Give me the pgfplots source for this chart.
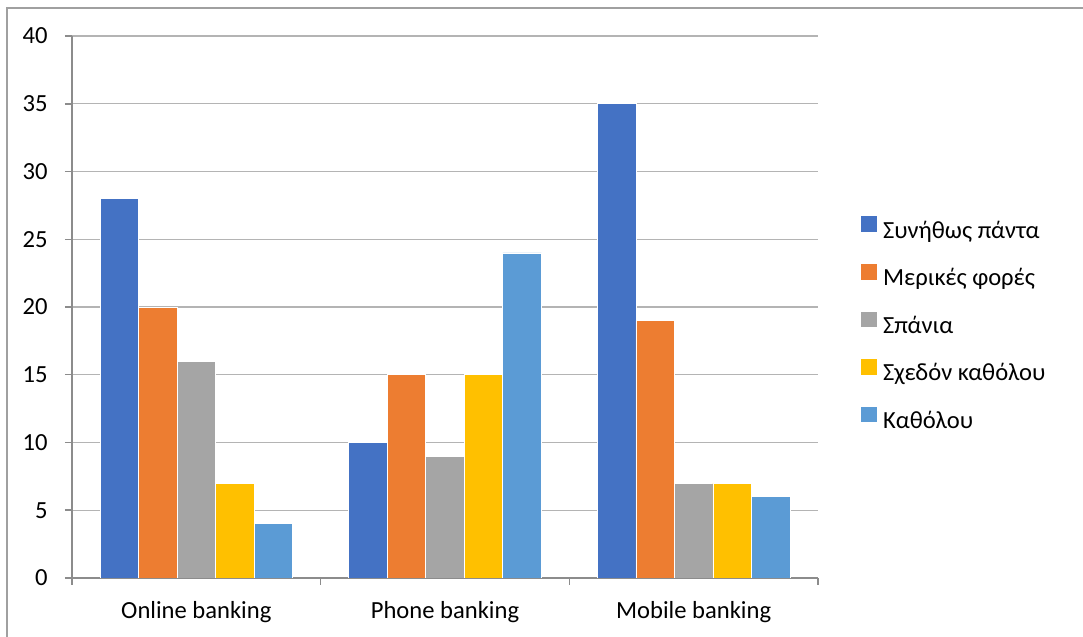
\documentclass[border=0pt]{standalone}
\usepackage{fontspec}
\setmainfont{Carlito}
\usepackage{pgfplots}
\pgfplotsset{compat=1.18}
\definecolor{c1}{HTML}{4472C4}
\definecolor{c2}{HTML}{ED7D31}
\definecolor{c3}{HTML}{A5A5A5}
\definecolor{c4}{HTML}{FFC000}
\definecolor{c5}{HTML}{5B9BD5}
\definecolor{gridgray}{HTML}{B4B4B4}
\definecolor{axisgray}{HTML}{8C8C8C}
\definecolor{framegray}{HTML}{A0A0A0}
\begin{document}
\begin{tikzpicture}[font=\fontsize{12.3}{14.8}\selectfont]
\path[use as bounding box] (0,0) rectangle (541.5pt,318.5pt);
\draw[framegray, line width=0.75pt] (3.5pt,0) -- (3.5pt,314.5pt) -- (541.5pt,314.5pt);
\begin{axis}[
  at={(36pt,29.5pt)}, anchor=south west,
  scale only axis, width=373pt, height=271pt,
  ybar=0pt, bar width=19.25pt,
  xmin=-0.5, xmax=2.5, ymin=0, ymax=40,
  enlargelimits=false,
  axis lines*=left,
  axis line style={-, draw=axisgray, line width=0.9pt},
  ytick={0,5,...,40},
  xtick={0,1,2},
  xticklabels={Online banking, Phone banking, Mobile banking},
  minor xtick={-0.5,0.5,1.5,2.5},
  tick align=outside,
  major tick length=3.5pt,
  minor tick length=3.5pt,
  tick style={draw=axisgray, line width=0.75pt},
  major x tick style={draw=none},
  ymajorgrids=true,
  grid style={draw=gridgray, line width=0.65pt},
  /pgf/number format/assume math mode=true,
  yticklabel style={inner sep=0pt, xshift=-8.5pt},
  xticklabel style={inner sep=0pt, text height=9pt, text depth=3pt, yshift=-7.5pt},
  legend cell align=left,
  legend style={at={(1.0577,0.466)}, anchor=west, draw=none, fill=none,
    inner sep=0pt, row sep=10pt, column sep=3pt,
    nodes={inner sep=0pt, text height=9pt, text depth=3pt}},
  legend image code/.code={\fill[#1,/tikz/.cd,draw=none] (0pt,0pt) rectangle (7.8pt,7.8pt);},
]
\addplot[fill=c1, draw=white, line width=0.3pt] coordinates {(0,28) (1,10) (2,35)};
\addplot[fill=c2, draw=white, line width=0.3pt] coordinates {(0,20) (1,15) (2,19)};
\addplot[fill=c3, draw=white, line width=0.3pt] coordinates {(0,16) (1,9) (2,7)};
\addplot[fill=c4, draw=white, line width=0.3pt] coordinates {(0,7) (1,15) (2,7)};
\addplot[fill=c5, draw=white, line width=0.3pt] coordinates {(0,4) (1,24) (2,6)};
\legend{Συνήθως πάντα, Μερικές φορές, Σπάνια, Σχεδόν καθόλου, Καθόλου}
\end{axis}
\end{tikzpicture}
\end{document}
